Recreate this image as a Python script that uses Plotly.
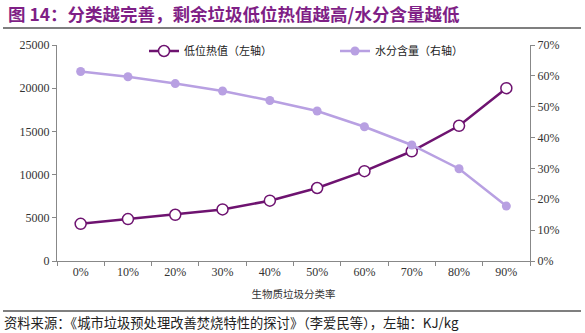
import plotly.graph_objects as go

# Biomass waste sorting rate (x categories)
sort_rate = ["0%", "10%", "20%", "30%", "40%", "50%", "60%", "70%", "80%", "90%"]
# Lower heating value of residual waste, KJ/kg (left axis)
heat_value = [4300, 4850, 5350, 5970, 6980, 8450, 10400, 12700, 15650, 20000]
# Moisture content of residual waste, % (right axis)
moisture = [61.4, 59.7, 57.5, 55.1, 52.0, 48.6, 43.5, 37.6, 29.9, 17.8]

left_ticks = [0, 5000, 10000, 15000, 20000, 25000]
right_ticks = [0, 10, 20, 30, 40, 50, 60, 70]

DARK = "#6E1370"
LIGHT = "#B8A0E2"
SERIF = "Times New Roman, Liberation Serif, DejaVu Serif, serif"
CJK = "Noto Sans CJK SC"

W, H = 585, 333
ML, MR, MT, MB = 57, 55, 45, 72
PH = H - MT - MB
PW = W - ML - MR


def py(px_from_top):
    """Convert a pixel row (from the page top) to paper y."""
    return (H - MB - px_from_top) / PH


def px(px_from_left):
    """Convert a pixel column (from the page left) to paper x."""
    return (px_from_left - ML) / PW


fig = go.Figure()

fig.add_trace(go.Scatter(
    x=sort_rate, y=heat_value, name="低位热值（左轴）",
    mode="lines+markers", yaxis="y",
    line=dict(color=DARK, width=2.5),
    marker=dict(size=11, color="white", line=dict(color=DARK, width=1.5)),
))
fig.add_trace(go.Scatter(
    x=sort_rate, y=moisture, name="水分含量（右轴）",
    mode="lines+markers", yaxis="y2",
    line=dict(color=LIGHT, width=2.5),
    marker=dict(size=9, color=LIGHT),
))

fig.update_layout(
    width=W, height=H,
    margin=dict(l=ML, r=MR, t=MT, b=MB),
    paper_bgcolor="white", plot_bgcolor="white",
    showlegend=True,
    legend=dict(
        orientation="h", x=px(144), y=py(51), xanchor="left", yanchor="middle",
        font=dict(family=CJK, size=11, color="#222"),
        bgcolor="rgba(0,0,0,0)", entrywidth=146, entrywidthmode="pixels",
    ),
    xaxis=dict(
        type="category", range=[-0.5, 9.5],
        showline=True, linecolor="#888", linewidth=1,
        ticks="outside", tickson="boundaries", ticklen=4, tickcolor="#888",
        showgrid=False, zeroline=False,
        tickfont=dict(family=SERIF, size=12, color="#333"),
        title=dict(text="生物质垃圾分类率", font=dict(family=CJK, size=10.5, color="#333"), standoff=12),
    ),
    yaxis=dict(
        range=[0, 25000], tickvals=left_ticks, tickformat="d",
        showline=True, linecolor="#888", linewidth=1,
        ticks="outside", ticklen=4, tickcolor="#888",
        showgrid=False, zeroline=False,
        tickfont=dict(family=SERIF, size=12, color="#333"),
    ),
    yaxis2=dict(
        range=[0, 70], tickvals=right_ticks,
        ticktext=[f"{v}%" for v in right_ticks],
        overlaying="y", side="right",
        showline=True, linecolor="#888", linewidth=1,
        ticks="outside", ticklen=4, tickcolor="#888",
        showgrid=False, zeroline=False,
        tickfont=dict(family=SERIF, size=12, color="#333"),
    ),
)

# Title, rules and source note
fig.add_annotation(
    text="<b>图 14：分类越完善，剩余垃圾低位热值越高/水分含量越低</b>",
    xref="paper", yref="paper", x=px(6), y=py(13), xanchor="left", yanchor="middle",
    showarrow=False, font=dict(family=CJK, size=17.5, color="#7F1F86"),
)
for row in (28, 311):
    fig.add_shape(type="line", xref="paper", yref="paper",
                  x0=px(3), x1=px(581), y0=py(row), y1=py(row),
                  line=dict(color="black", width=1.2))
fig.add_annotation(
    text="资料来源：《城市垃圾预处理改善焚烧特性的探讨》（李爱民等），左轴：KJ/kg",
    xref="paper", yref="paper", x=px(2), xanchor="left",
    y=py(322), yanchor="middle",
    showarrow=False, font=dict(family=CJK, size=13.3, color="#222"),
)

fig.write_html("out.html")
